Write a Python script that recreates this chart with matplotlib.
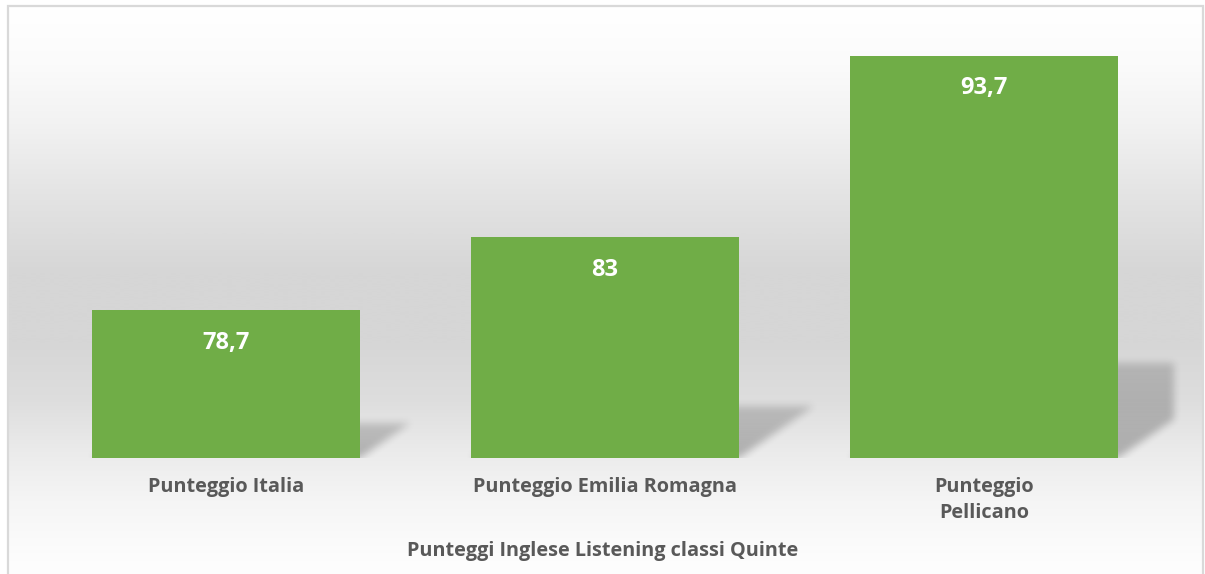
import numpy as np
import matplotlib.pyplot as plt
from matplotlib.patches import Rectangle

categories = ["Punteggio Italia", "Punteggio Emilia Romagna", "Punteggio\nPellicano"]
values = [78.7, 83.0, 93.7]
value_labels = ["78,7", "83", "93,7"]
title = "Punteggi Inglese Listening classi Quinte"
ymin, ymax = 70, 95.5

W, H = 1205, 574
fig = plt.figure(figsize=(W / 100, H / 100), dpi=100)
fig.patch.set_facecolor("white")

# background: gradient panel (white -> grey -> white), pixel space, y up
bg = fig.add_axes([0, 0, 1, 1])
bg.set_zorder(-1)
bg.set_xlim(0, W)
bg.set_ylim(0, H)
bg.axis("off")

stops_y = np.array([5, 60, 120, 190, 270, 340, 400, 450, 500, 560, 574])  # from top
stops_g = np.array([255, 251, 242, 228, 214, 214, 222, 235, 245, 253, 254]) / 255
rows = np.interp(np.arange(H), stops_y, stops_g)[::-1]  # y-up order
grad = np.repeat(rows[:, None], 3, axis=1)[:, None, :]
bg.imshow(grad, extent=[7.5, 1203, 0, H - 5.5], origin="lower", aspect="auto",
          interpolation="bilinear", zorder=0)
bg.add_patch(Rectangle((7.5, -10), 1203 - 7.5, H - 5.5 + 10, fill=False,
                       edgecolor="#d9d9d9", linewidth=1.6, zorder=3))

# main axes
ax = fig.add_axes([36.5 / W, (H - 458) / H, (1173.5 - 36.5) / W, 433 / H])
ax.set_facecolor("none")
x = np.arange(len(categories))
bars = ax.bar(x, values, width=0.707, color="#70AD47", zorder=3)
ax.set_xlim(-0.5, len(categories) - 0.5)
ax.set_ylim(ymin, ymax)
for s in ax.spines.values():
    s.set_visible(False)
ax.set_yticks([])
ax.set_xticks(x)
ax.set_xticklabels(categories, fontsize=14.3, color="#595959", fontfamily="Open Sans",
                   fontweight="bold", linespacing=1.35)
ax.tick_params(axis="x", length=0, pad=14)

for b, v, lab in zip(bars, values, value_labels):
    ax.annotate(lab, (b.get_x() + b.get_width() / 2, v),
                xytext=(0, -23.5), textcoords="offset points", ha="center", va="center",
                color="white", fontsize=17, fontweight="bold", fontfamily="Open Sans",
                zorder=4)

fig.text(0.5, (H - 551) / H, title, ha="center", va="center", fontsize=14.3,
         color="#595959", fontfamily="Open Sans", fontweight="bold")

# perspective shadows behind bars, computed in pixel space
alpha = np.zeros((H, W))
yy, xx = np.mgrid[0:H, 0:W]
ax_right = ax.transAxes.transform((1, 0))[0]
for b, v in zip(bars, values):
    (L, B), (R, T) = ax.transData.transform([(b.get_x(), ymin), (b.get_x() + b.get_width(), v)])
    h = T - B
    dx, dy = 0.34 * h, 0.235 * h
    t = (yy - B) / dy
    inside = (t >= 0) & (t <= 1) & (xx >= L + dx * t) & (xx <= R + dx * t) & (xx <= ax_right)
    alpha[inside] = np.maximum(alpha[inside], 0.26 * (1 - 0.35 * t[inside]))

def box_blur(a, r, axis):
    k = np.ones(2 * r + 1) / (2 * r + 1)
    return np.apply_along_axis(lambda v: np.convolve(v, k, mode="same"), axis, a)

for _ in range(2):
    alpha = box_blur(alpha, 4, 0)
    alpha = box_blur(alpha, 4, 1)
base = ax.transData.transform((0, ymin))[1]
alpha[yy < base] = 0
shadow = np.zeros((H, W, 4))
shadow[..., 3] = alpha
bg.imshow(shadow, extent=[0, W, 0, H], origin="lower", aspect="auto", zorder=1,
          interpolation="nearest")

fig.savefig("out.png", dpi=100)
